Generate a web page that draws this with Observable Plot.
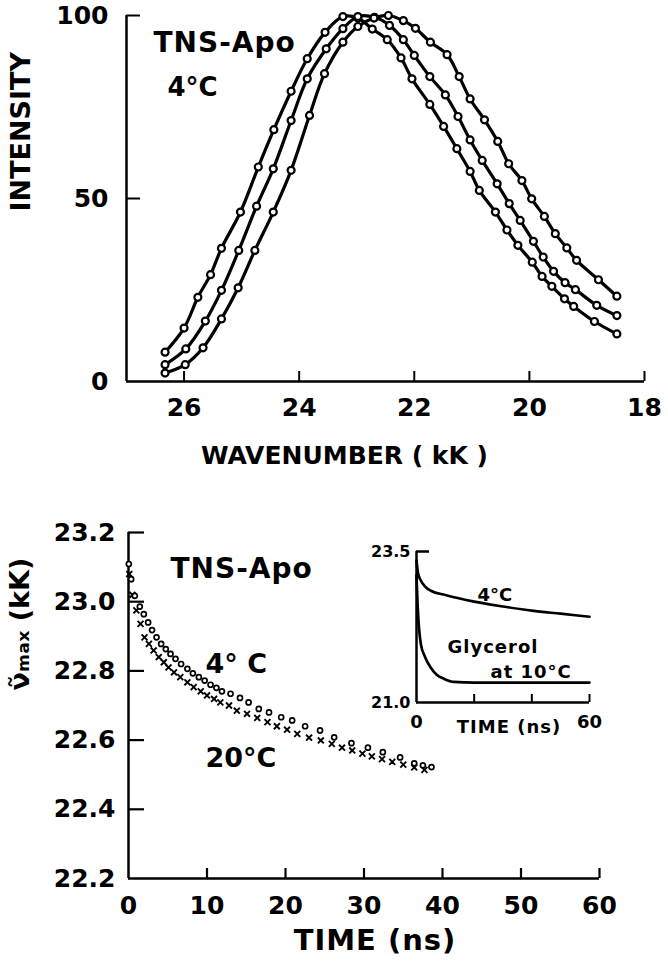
<!DOCTYPE html>
<html>
<head>
<meta charset="utf-8">
<script src="https://cdn.jsdelivr.net/npm/d3@7"></script>
<script src="https://cdn.jsdelivr.net/npm/@observablehq/plot@0.6"></script>
<style>
  html, body { margin: 0; padding: 0; background: white; }
  #wrap { position: relative; width: 668px; height: 975px; overflow: hidden; }
  #wrap > svg { position: absolute; }
</style>
</head>
<body>
<div id="wrap"></div>
<script>
// ---------- Top panel: emission spectra (TNS-Apo, 4°C) ----------
const wn1 = [26.33,26.00,25.76,25.54,25.35,25.02,24.71,24.44,24.14,23.86,23.55,23.24,22.98,22.73,22.47,22.23,22.04,21.73,21.49,21.26,21.03,20.87,20.59,20.39,20.20,19.95,19.78,19.61,19.39,19.23,18.87,18.48];
const int1 = [8.0,14.6,23.0,29.2,36.4,46.3,58.6,68.8,79.3,88.2,95.4,99.7,99.3,96.3,93.4,88.4,82.7,75.7,69.7,63.6,57.4,52.2,46.3,41.4,37.2,32.6,28.7,26.0,22.6,20.5,16.4,13.0];
const wn2 = [26.33,25.97,25.63,25.35,25.05,24.74,24.45,24.14,23.86,23.53,23.24,22.98,22.69,22.43,22.19,22.00,21.73,21.46,21.24,21.03,20.82,20.56,20.35,20.16,19.93,19.76,19.58,19.38,19.20,18.83,18.48];
const int2 = [4.6,8.9,16.5,24.9,35.8,47.9,58.1,71.3,82.7,90.9,96.4,99.7,99.5,97.3,93.4,89.1,83.3,78.3,72.4,66.0,60.4,54.0,48.6,44.0,38.3,34.0,30.1,27.0,25.1,20.8,18.0];
const wn3 = [26.33,25.98,25.67,25.35,25.06,24.77,24.45,24.14,23.82,23.56,23.24,22.98,22.70,22.45,22.19,21.98,21.72,21.43,21.22,21.03,20.78,20.55,20.36,20.13,19.96,19.74,19.55,19.35,19.18,18.80,18.48];
const int3 = [2.3,4.6,9.2,17.1,25.6,35.8,46.3,57.7,72.7,84.1,92.7,97.0,99.3,100,98.6,96.5,92.7,89.3,83.3,77.2,71.5,65.6,59.5,54.9,49.9,45.1,40.4,36.5,33.1,27.8,23.3];
const topXTicks = [26,24,22,20,18];
const topYTicks = [0,50,100];

// ---------- Bottom panel: spectral relaxation ----------
const t4 = [0.04,0.34,0.8,1.44,1.95,2.5,3.0,3.57,4.16,4.75,5.35,5.99,6.7,7.5,8.2,8.96,9.7,10.45,11.2,11.9,13.0,14.2,15.3,16.6,17.9,19.45,20.85,22.5,24.4,26.2,28.4,30.5,32.4,34.6,36.4,37.5,38.6];
const v4 = [23.109,23.065,23.017,22.986,22.964,22.94,22.918,22.897,22.878,22.863,22.849,22.835,22.82,22.806,22.793,22.782,22.772,22.76,22.751,22.741,22.734,22.722,22.709,22.69,22.68,22.666,22.657,22.64,22.628,22.608,22.591,22.578,22.565,22.55,22.533,22.527,22.522];
const t20 = [0.1,0.5,1.0,1.53,2.04,2.6,3.2,3.86,4.5,5.1,5.8,6.6,7.5,8.3,9.2,10.0,10.9,11.7,12.8,13.8,15.1,16.4,17.7,18.9,20.2,21.5,23.0,24.5,25.9,27.2,28.5,29.8,31.0,32.3,33.6,35.0,36.4,37.7];
const v20 = [23.08,23.02,22.975,22.936,22.897,22.878,22.859,22.84,22.825,22.81,22.796,22.782,22.767,22.753,22.741,22.729,22.719,22.709,22.7,22.685,22.676,22.664,22.652,22.64,22.63,22.618,22.607,22.599,22.589,22.578,22.57,22.561,22.553,22.545,22.537,22.529,22.521,22.514];
const botXTicks = [0,10,20,30,40,50,60];
const botYTicks = [22.2,22.4,22.6,22.8,23.0,23.2];

// ---------- Inset ----------
const tIn4 = [0,0.5,1.5,3,5,10,20,30,40,50,60];
const vIn4 = [23.35,23.15,23.02,22.92,22.85,22.78,22.67,22.59,22.52,22.47,22.42];
const tGly = [0,0.4,1.5,3,4.9,7,9.6,13,20,40,60];
const vGly = [23.1,22.6,21.97,21.75,21.58,21.46,21.39,21.34,21.33,21.33,21.33];
const inXTicks = [0,60];
const inXMinor = [20,40,60];
const inYTicks = [21.0,23.5];

const FONT = "DejaVu Sans";
const wrap = document.getElementById("wrap");

const spectra = [
  ...wn1.map((x,i)=>({x, y:int1[i], s:"a"})),
  ...wn2.map((x,i)=>({x, y:int2[i], s:"b"})),
  ...wn3.map((x,i)=>({x, y:int3[i], s:"c"}))
];

// Top plot geometry
const W = 668;
const H1 = 490, mT1 = 15, mB1 = 109, mL1 = 126, mR1 = 24;
const fh1 = H1 - mT1 - mB1, fw1 = W - mL1 - mR1;

const p1 = Plot.plot({
  width: W, height: H1,
  marginTop: mT1, marginBottom: mB1, marginLeft: mL1, marginRight: mR1,
  style: {fontFamily: FONT, fontWeight: "bold", fontSize: "25px", background: "transparent", color: "black"},
  x: {domain: [27, 18]},
  y: {domain: [0, 100]},
  marks: [
    Plot.ruleY([0], {strokeWidth: 2.5}),
    Plot.ruleX([27], {strokeWidth: 2.5}),
    Plot.tickX(topXTicks, {x: d => d, insetTop: fh1 - 10, strokeWidth: 2}),
    Plot.tickY(topYTicks.filter(d => d > 0), {y: d => d, insetRight: fw1 - 14, strokeWidth: 2}),
    Plot.axisX({ticks: topXTicks, tickSize: 0, tickPadding: 17, label: null, fontSize: 25}),
    Plot.axisY({ticks: topYTicks, tickSize: 0, tickPadding: 18, label: null, fontSize: 25}),
    Plot.line(spectra, {x: "x", y: "y", z: "s", curve: "catmull-rom", strokeWidth: 3.2}),
    Plot.dot(spectra, {x: "x", y: "y", r: 3.5, fill: "white", stroke: "black", strokeWidth: 2.2}),
    Plot.text(["TNS-Apo"], {frameAnchor: "top-left", textAnchor: "start", dx: 27, dy: 17, fontSize: 28}),
    Plot.text(["4°C"], {frameAnchor: "top-left", textAnchor: "start", dx: 41, dy: 62, fontSize: 26}),
    Plot.text(["WAVENUMBER ( kK )"], {frameAnchor: "bottom", dx: -41, dy: 82, fontSize: 25}),
    Plot.text(["INTENSITY"], {frameAnchor: "left", rotate: -90, dx: -105, dy: 13, fontSize: 27})
  ]
});
p1.style.left = "0px"; p1.style.top = "0px";
wrap.appendChild(p1);

// Bottom plot
const H2 = 485, top2 = 490, mT2 = 42, mB2 = 97, mL2 = 128, mR2 = 69;
const fh2 = H2 - mT2 - mB2, fw2 = W - mL2 - mR2;
const relax = [
  ...t4.map((t,i)=>({t, v:v4[i], temp:"4"})),
  ...t20.map((t,i)=>({t, v:v20[i], temp:"20"}))
];
const p2 = Plot.plot({
  width: W, height: H2,
  marginTop: mT2, marginBottom: mB2, marginLeft: mL2, marginRight: mR2,
  style: {fontFamily: FONT, fontWeight: "bold", fontSize: "25px", background: "transparent", color: "black"},
  x: {domain: [0, 60]},
  y: {domain: [22.2, 23.2]},
  marks: [
    Plot.ruleY([22.2], {strokeWidth: 2.5}),
    Plot.ruleX([0], {strokeWidth: 2.5}),
    Plot.tickX(botXTicks.filter(d => d > 0), {x: d => d, insetTop: fh2 - 10, strokeWidth: 2.2}),
    Plot.tickY(botYTicks.filter(d => d > 22.2), {y: d => d, insetRight: fw2 - 16, strokeWidth: 2.2}),
    Plot.axisX({ticks: botXTicks, tickSize: 0, tickPadding: 18, label: null, fontSize: 25}),
    Plot.axisY({ticks: botYTicks, tickSize: 0, tickPadding: 13, label: null, fontSize: 25, tickFormat: d => d.toFixed(1)}),
    Plot.dot(relax.filter(d => d.temp === "20"), {x: "t", y: "v", symbol: "times", r: 2.8, stroke: "black", strokeWidth: 1.9}),
    Plot.dot(relax.filter(d => d.temp === "4"), {x: "t", y: "v", r: 2.5, fill: "white", stroke: "black", strokeWidth: 1.7}),
    Plot.text(["TNS-Apo"], {frameAnchor: "top-left", textAnchor: "start", dx: 42, dy: 26, fontSize: 28}),
    Plot.text(["4° C"], {frameAnchor: "top-left", textAnchor: "start", dx: 77, dy: 121, fontSize: 27}),
    Plot.text(["20°C"], {frameAnchor: "top-left", textAnchor: "start", dx: 77, dy: 215, fontSize: 27}),
    Plot.text(["TIME (ns)"], {frameAnchor: "bottom", dx: 11, dy: 71, fontSize: 29}),
    Plot.text(["ν̃ₘₐₓ (kK)"], {frameAnchor: "left", rotate: -90, dx: -108, dy: -15, fontSize: 27})
  ]
});
p2.style.left = "0px"; p2.style.top = top2 + "px";
wrap.appendChild(p2);

// Inset
const W3 = 313, H3 = 205, left3 = 355, top3 = 535, mT3 = 16, mB3 = 38, mL3 = 61, mR3 = 79;
const fh3 = H3 - mT3 - mB3, fw3 = W3 - mL3 - mR3;
const inset = [
  ...tIn4.map((t,i)=>({t, v:vIn4[i], s:"4°C"})),
  ...tGly.map((t,i)=>({t, v:vGly[i], s:"gly"}))
];
const p3 = Plot.plot({
  width: W3, height: H3,
  marginTop: mT3, marginBottom: mB3, marginLeft: mL3, marginRight: mR3,
  style: {fontFamily: FONT, fontWeight: "bold", fontSize: "17px", background: "transparent", color: "black"},
  x: {domain: [0, 60]},
  y: {domain: [21, 23.5]},
  marks: [
    Plot.ruleY([21], {strokeWidth: 2.5}),
    Plot.ruleX([0], {strokeWidth: 2.5}),
    Plot.tickX(inXMinor, {x: d => d, insetTop: fh3 - 8, strokeWidth: 2}),
    Plot.tickY([23.5], {y: d => d, insetRight: fw3 - 13, strokeWidth: 2.5}),
    Plot.axisX({ticks: inXTicks, tickSize: 0, tickPadding: 13, label: null, fontSize: 18}),
    Plot.axisY({ticks: inYTicks, tickSize: 0, tickPadding: 6, label: null, fontSize: 16, tickFormat: d => d.toFixed(1)}),
    Plot.line(inset, {x: "t", y: "v", z: "s", curve: "monotone-x", strokeWidth: 2.7}),
    Plot.text(["TIME (ns)"], {frameAnchor: "bottom", dx: 6, dy: 30, fontSize: 18}),
    Plot.text(["4°C"], {frameAnchor: "top-left", textAnchor: "start", dx: 61, dy: 37, fontSize: 18}),
    Plot.text(["Glycerol"], {frameAnchor: "top-left", textAnchor: "start", dx: 31, dy: 89, fontSize: 18}),
    Plot.text(["at 10°C"], {frameAnchor: "top-left", textAnchor: "start", dx: 74, dy: 114, fontSize: 18})
  ]
});
p3.style.left = left3 + "px"; p3.style.top = top3 + "px";
wrap.appendChild(p3);

// letter spacing for wide typewriter-like labels
d3.selectAll("#wrap text").filter(function() {
  return ["TIME (ns)", "Glycerol", "at 10°C", "TNS-Apo"].includes(this.textContent);
}).style("letter-spacing", "1px");
</script>
</body>
</html>
